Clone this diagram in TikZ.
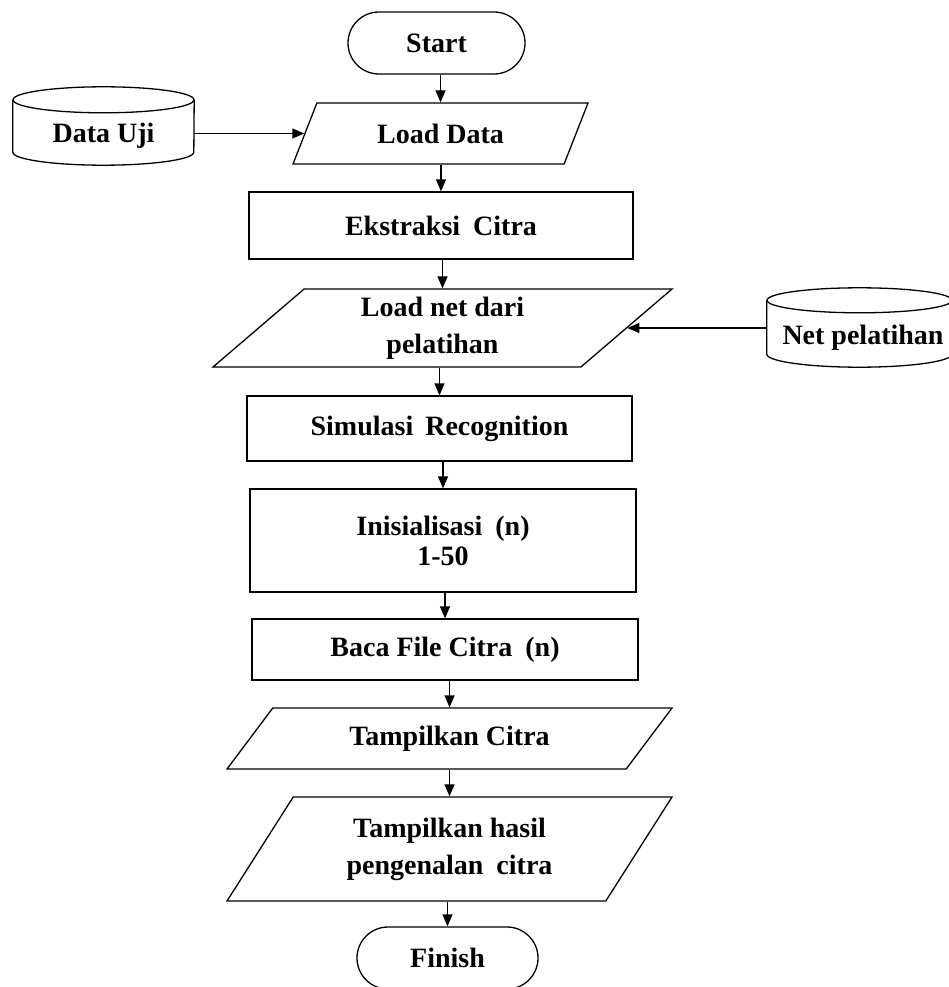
\documentclass[tikz,border=0pt]{standalone}
\usepackage{fontspec}
\setmainfont{Liberation Serif}
\usetikzlibrary{shapes.geometric,shapes.misc,arrows.meta}
\begin{document}
\begin{tikzpicture}[x=1pt,y=-1pt,
  every node/.style={font=\fontsize{28}{37}\selectfont\bfseries, align=center, inner sep=0pt},
  line/.style={line width=1.3pt},
  term/.style={rounded rectangle, draw, line width=1.3pt, minimum width=177pt, minimum height=62pt},
  proc/.style={rectangle, draw, line width=1.3pt},
  io/.style={trapezium, draw, line width=1.3pt, trapezium stretches body},
  cylbox/.style={rectangle, draw=none},
  arr/.style={line width=1.3pt, -{Triangle[length=12pt,width=10pt]}},
]
\useasboundingbox (0,0) rectangle (949,987);

% main column
\node[term] (start) at (436.5,43) {Start};
\node[io, trapezium left angle=39.5, trapezium right angle=140.5,
      minimum width=295pt, minimum height=61pt] (ld) at (440.5,133.5) {Load Data};
\node[proc, minimum width=384pt, minimum height=67pt] (ek) at (441,225.5) {Ekstraksi\hspace{6pt} Citra};
\node[io, trapezium left angle=34.4, trapezium right angle=145.6,
      minimum width=459pt, minimum height=78pt] (ln) at (442.5,328) {Load net dari\\pelatihan};
\node[proc, minimum width=385pt, minimum height=65pt] (sim) at (439.5,428.5) {Simulasi\hspace{5pt} Recognition};
\node[proc, minimum width=386pt, minimum height=103pt,
      font=\fontsize{28}{30}\selectfont\bfseries] (ini) at (443,540.5) {Inisialisasi\hspace{6pt} (n)\\1-50};
\node[proc, minimum width=386pt, minimum height=61pt] (baca) at (445,649.5) {Baca File Citra\hspace{6pt} (n)};
\node[io, trapezium left angle=29, trapezium right angle=151,
      minimum width=445pt, minimum height=61pt] (tc) at (449.5,738.5) {Tampilkan Citra};
\node[io, trapezium left angle=43.4, trapezium right angle=136.6,
      minimum width=445pt, minimum height=104pt] (th) at (449.5,849) {Tampilkan hasil\\pengenalan\hspace{6pt} citra};
\node[term, minimum width=181pt] (fin) at (447.5,958) {Finish};

% data stores
\node[cylbox, minimum width=181pt, minimum height=78pt] (du) at (103.5,126) {};
\node (dut) at (103.5,136) {Data Uji};
\draw[line] ([yshift=-13pt]du.north west) -- ([yshift=13pt]du.south west)
  arc[start angle=180, end angle=360, x radius=90.5pt, y radius=13pt]
  -- ([yshift=-13pt]du.north east);
\draw[line] ([yshift=-13pt]du.north) ellipse [x radius=90.5pt, y radius=13pt];

\node[cylbox, minimum width=185pt, minimum height=79pt] (np) at (859.5,327.5) {};
\node (npt) at (863,338) {Net pelatihan};
\draw[line] ([yshift=-12.5pt]np.north west) -- ([yshift=13pt]np.south west)
  arc[start angle=180, end angle=360, x radius=92.5pt, y radius=13pt]
  -- ([yshift=-12.5pt]np.north east);
\draw[line] ([yshift=-12.5pt]np.north) ellipse [x radius=92.5pt, y radius=12.5pt];

% connectors
\draw[arr] (ld.north |- start.south) -- (ld.north);
\draw[arr] (ek.north |- ld.south) -- (ek.north);
\draw[arr] (ln.north |- ek.south) -- (ln.north);
\draw[arr] (sim.north |- ln.south) -- (sim.north);
\draw[arr] (ini.north |- sim.south) -- (ini.north);
\draw[arr] (baca.north |- ini.south) -- (baca.north);
\draw[arr] (tc.north |- baca.south) -- (tc.north);
\draw[arr] (th.north |- tc.south) -- (th.north);
\draw[arr] (fin.north |- th.south) -- (fin.north);
\draw[arr] (du.east |- ld.west) -- (ld.west);
\draw[arr] (np.west |- ln.east) -- (ln.east);
\end{tikzpicture}
\end{document}
